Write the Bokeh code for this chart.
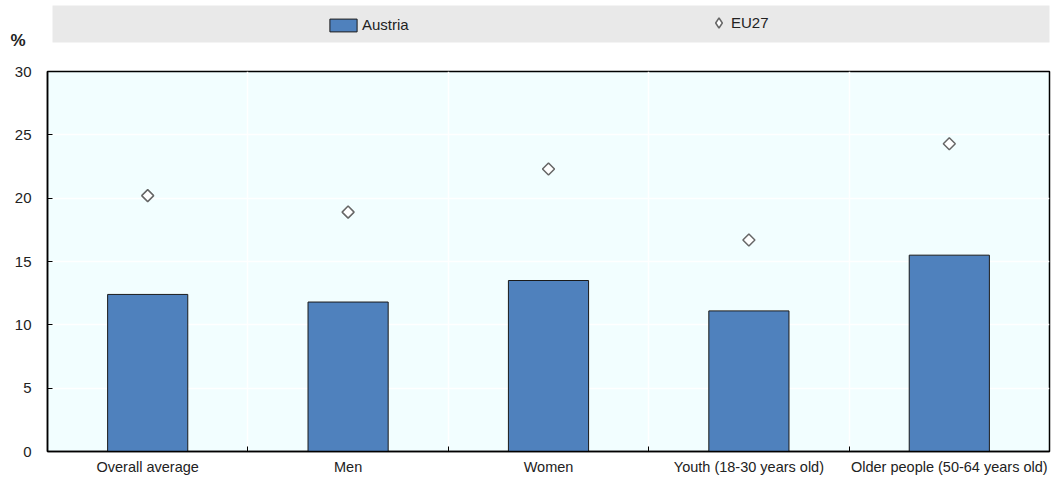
import numpy as np
from bokeh.plotting import figure
from bokeh.layouts import column
from bokeh.models import (ColumnDataSource, Range1d, FixedTicker, Legend, LegendItem,
                          BoxAnnotation, LinearAxis)
from bokeh.embed import file_html
from bokeh.resources import INLINE

# ---- data ----
categories = ["Overall average", "Men", "Women", "Youth (18-30 years old)", "Older people (50-64 years old)"]
austria = [12.4, 11.8, 13.5, 11.1, 15.5]
eu27 = [20.2, 18.9, 22.3, 16.7, 24.3]
y_ticks = [0, 5, 10, 15, 20, 25, 30]
unit_label = "%"

FONT = "Liberation Sans"
TXT = "#222222"
BAR = "#4F81BD"
BG = "#F2FEFF"

xs = list(range(len(categories)))
src = ColumnDataSource(dict(x=xs, cat=categories, austria=austria, eu27=eu27))

bar_style = dict(fill_color=BAR, line_color="#1a1a1a", line_width=1)
dot_style = dict(fill_color="white", line_color="#666666", line_width=1.5)

# ---- main chart ----
p = figure(width=1055, height=430, output_backend="svg", toolbar_location=None,
           x_range=Range1d(-0.5, len(categories) - 0.5), y_range=Range1d(0, 30),
           min_border_left=47, min_border_right=6, min_border_top=21, min_border_bottom=29)
p.background_fill_color = BG
p.border_fill_color = "white"
p.outline_line_color = "black"
p.outline_line_width = 1.5

p.vbar(x="x", top="austria", width=0.4, source=src, **bar_style)
p.scatter(x="x", y="eu27", source=src, marker="square", angle=np.pi / 4, size=8.5, **dot_style)

# y axis
p.yaxis.ticker = FixedTicker(ticks=y_ticks)
p.yaxis.major_tick_in = 5
p.yaxis.major_tick_out = 0
p.yaxis.minor_tick_line_color = None
p.yaxis.axis_line_color = "black"
p.yaxis.axis_line_width = 1.5
p.yaxis.major_tick_line_color = "black"
p.yaxis.major_label_text_font = FONT
p.yaxis.major_label_text_font_size = "15px"
p.yaxis.major_label_text_color = TXT
p.yaxis.major_label_standoff = 16

# x axis
p.xaxis.ticker = FixedTicker(ticks=xs, minor_ticks=[i + 0.5 for i in xs[:-1]])
p.xaxis.major_label_overrides = {i: c for i, c in zip(xs, categories)}
p.xaxis.major_tick_in = 0
p.xaxis.major_tick_out = 0
p.xaxis.minor_tick_in = 5
p.xaxis.minor_tick_out = 0
p.xaxis.minor_tick_line_color = "black"
p.xaxis.axis_line_color = "black"
p.xaxis.axis_line_width = 1.5
p.xaxis.major_label_text_font = FONT
p.xaxis.major_label_text_font_size = "14.5px"
p.xaxis.major_label_text_color = TXT
p.xaxis.major_label_standoff = 7

# grids
p.ygrid.ticker = FixedTicker(ticks=y_ticks[1:-1])
p.ygrid.grid_line_color = "white"
p.ygrid.grid_line_width = 1.5
p.xgrid.ticker = FixedTicker(ticks=[i + 0.5 for i in xs[:-1]])
p.xgrid.grid_line_color = "white"
p.xgrid.grid_line_width = 1.5

# ---- header strip: legend band and unit label ----
top = figure(width=1055, height=50, output_backend="svg", toolbar_location=None,
             x_range=Range1d(100, 101), y_range=Range1d(100, 101),
             x_axis_type=None, y_axis_type=None,
             min_border_left=0, min_border_right=0, min_border_top=0, min_border_bottom=0)
top.background_fill_color = "white"
top.border_fill_color = "white"
top.outline_line_color = None
top.xgrid.visible = False
top.ygrid.visible = False

top.add_layout(BoxAnnotation(left=52, right=1055, top=5, bottom=42,
                             left_units="canvas", right_units="canvas",
                             top_units="canvas", bottom_units="canvas",
                             fill_color="#E9E9E9", fill_alpha=1, line_color=None,
                             level="underlay"))

# legend proxies: same data, but the header's ranges keep them out of view
lb = top.vbar(x="x", top="austria", width=0.4, source=src, **bar_style)
ld = top.scatter(x="x", y="eu27", source=src, marker="diamond", size=8.5, **dot_style)

leg_common = dict(orientation="horizontal", padding=0, margin=0, spacing=0,
                  background_fill_alpha=0, border_line_color=None,
                  label_text_font=FONT, label_text_font_size="15px", label_text_color=TXT)
leg1 = Legend(items=[LegendItem(label="Austria", renderers=[lb], index=0)],
              location=(279, 17), glyph_width=34, glyph_height=16, label_standoff=2,
              **leg_common)
leg2 = Legend(items=[LegendItem(label="EU27", renderers=[ld], index=0)],
              location=(659, 15), glyph_width=25, glyph_height=25, label_standoff=-6,
              **leg_common)
top.add_layout(leg1)
top.add_layout(leg2)

# unit label "%" as a lone tick label on an invisible left axis of the header
unit_axis = LinearAxis(ticker=FixedTicker(ticks=[100.2]),
                       major_label_overrides={100.2: unit_label},
                       axis_line_color=None, major_tick_line_color=None,
                       minor_tick_line_color=None, major_tick_in=0, major_tick_out=0,
                       major_label_standoff=22,
                       major_label_text_font=FONT, major_label_text_font_size="17px",
                       major_label_text_font_style="bold", major_label_text_color=TXT)
top.add_layout(unit_axis, "left")

layout = column(top, p, spacing=0)
open("out.html", "w").write(file_html(layout, INLINE))
